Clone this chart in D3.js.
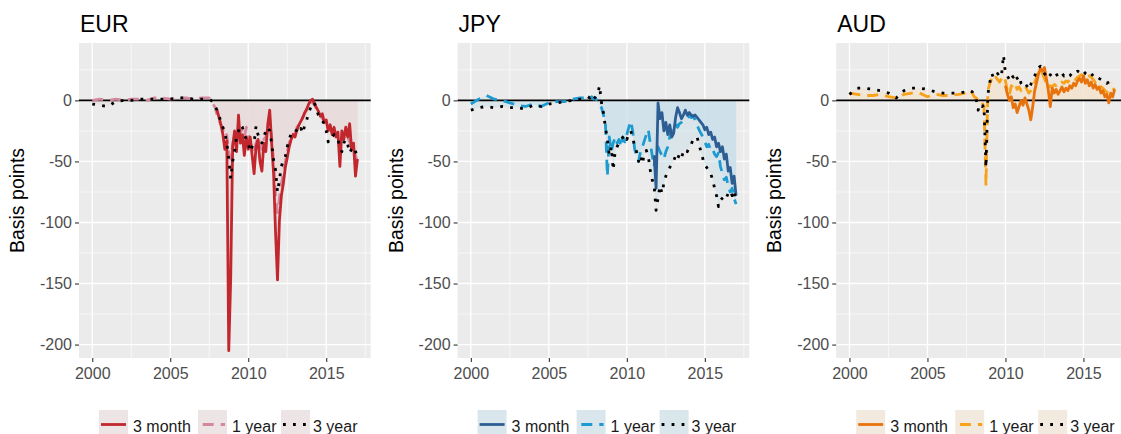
<!DOCTYPE html>
<html>
<head>
<meta charset="utf-8">
<script src="https://cdn.jsdelivr.net/npm/d3@7"></script>
<style>
  body { margin: 0; background: #fff; }
  svg { display: block; font-family: "Liberation Sans", Arial, sans-serif; }
</style>
</head>
<body>
<div id="viz"></div>
<script>
// time grid: half-yearly up to mid 2007, then every 1/8 year
const years = [
  2000, 2000.5, 2001, 2001.5, 2002, 2002.5, 2003, 2003.5, 2004, 2004.5, 2005, 2005.5, 2006, 2006.5, 2007, 2007.5,
  2007.625, 2007.75, 2007.875,
  2008, 2008.125, 2008.25, 2008.375, 2008.5, 2008.625, 2008.75, 2008.875,
  2009, 2009.125, 2009.25, 2009.375, 2009.5, 2009.625, 2009.75, 2009.875,
  2010, 2010.125, 2010.25, 2010.375, 2010.5, 2010.625, 2010.75, 2010.875,
  2011, 2011.125, 2011.25, 2011.375, 2011.5, 2011.625, 2011.75, 2011.875,
  2012, 2012.125, 2012.25, 2012.375, 2012.5, 2012.625, 2012.75, 2012.875,
  2013, 2013.125, 2013.25, 2013.375, 2013.5, 2013.625, 2013.75, 2013.875,
  2014, 2014.125, 2014.25, 2014.375, 2014.5, 2014.625, 2014.75, 2014.875,
  2015, 2015.125, 2015.25, 2015.375, 2015.5, 2015.625, 2015.75, 2015.875,
  2016, 2016.125, 2016.25, 2016.375, 2016.5, 2016.625, 2016.75, 2016.875,
  2017
];

const N = null;

// EUR basis (bp)
const eur3m = [
  N, N, N, N, N, N, N, N, N, N, N, N, N, N, N, N,
  N, N, N,
  -8, -14, -20, -28, -40, -33, -205, -146,
  -38, -25, -42, -12, -35, -28, -45, -30,
  -40, -30, -45, -60, -38, -32, -50, -58,
  -35, -42, -20, -8, -35, -60, -108, -147,
  -98, -78, -68, -55, -47, -38, -32, -28,
  -30, -24, -20, -17, -14, -10, -7, -3,
  0, 1, -3, -6, -9, -13, -11, -18,
  -16, -25, -20, -28, -22, -30, -26, -54,
  -25, -32, -22, -30, -19, -40, -35, -62,
  -48
];
const eur1y = [
  0, 1, 0, 1, 0, 1, 1, 0, 2, 2, 1, 2, 2, 1, 2, 2,
  0, -3, -6,
  -12, -16, -20, -24, -30, -28, -42, -48,
  -36, -28, -34, -22, -26, -24, -30, -22,
  -28, -35, -38, -42, -35, -30, -36, -40,
  -32, -30, -22, -15, -30, -50, -78, -92,
  -80, -68, -60, -50, -42, -35, -30, -28,
  -27, -22, -20, -16, -14, -10, -8, -4,
  -1, -2, -4, -7, -10, -12, -15, -17,
  -20, -22, -24, -25, -27, -28, -30, -35,
  -30, -28, -32, -30, -34, -38, -40, -45,
  -50
];
const eur3y = [
  -3, -4, -5, -1, 0, 0, 1, 1, 1, 1, 1, 2, 2, 1, 1, 1,
  0, -2, -5,
  -8, -12, -18, -22, -26, -35, -48, -64,
  -50, -42, -30, -25, -20, -22, -28, -32,
  -35, -42, -38, -35, -21, -28, -32, -35,
  -30, -25, -22, -25, -35, -49, -57, -75,
  -65, -54, -49, -46, -38, -32, -27, -26,
  -24, -25, -27, -23, -27, -20, -16, -10,
  -6, -2, -2, -8, -12, -14, -17, -19,
  -25, -34, -30, -30, -28, -31, -32, -39,
  -42, -35, -32, -36, -43, -40, -38, -42,
  -45
];

// JPY basis (bp)
const jpy3m = [
  N, N, N, N, N, N, N, N, N, N, N, N, N, N, N, N,
  N, N, N,
  N, N, N, N, N, N, N, N,
  N, N, N, N, N, N, N, N,
  N, N, N, N, N, N, N, N,
  N, N, N, N, N, N, -45, -72,
  -2, -15, -10, -25, -18, -28, -20, -30,
  -27, -14, -6, -10, -15, -12, -8, -12,
  -10, -12, -13, -12, -14, -16, -18, -20,
  -24, -22, -28, -26, -32, -30, -38, -35,
  -42, -38, -48, -44, -58, -55, -68, -62,
  -78
];
const jpy1y = [
  -3, 1, 4, 1, 0, -2, -4, -5, -3, -5, -2, -1, -1, 1, 2, 2,
  1, 3, 1,
  2, -2, -4, -6, -12, -18, -62, -30,
  -42, -35, -30, -35, -32, -38, -30, -34,
  -28, -22, -17, -25, -40, -45, -50, -42,
  -38, -33, -28, -24, -35, -45, -54, -40,
  -38, -42, -45, -48, -42, -38, -30, -24,
  -22, -19, -22, -19, -18, -16, -15, -14,
  -13, -14, -13, -16, -20, -24, -27, -30,
  -34, -38, -36, -41, -40, -44, -46, -43,
  -54, -60, -65, -63, -70, -75, -72, -80,
  -85
];
const jpy3y = [
  -8, -6, -5, -6, -5, -6, -6, -7, -4, -5, -3, -2, -1, 0, 1, 3,
  2, 4, 1,
  3, 5, 12, -2, -10, -22, -32, -45,
  -38, -57, -42, -38, -35, -32, -30, -28,
  -32, -27, -25, -30, -38, -42, -50, -45,
  -52, -43, -41, -46, -57, -65, -70, -90,
  -80, -70, -76, -68, -62, -58, -55, -52,
  -50, -45, -48, -44, -47, -42, -40, -42,
  -38, -36, -32, -31, -30, -36, -42, -48,
  -53, -55, -58, -60, -65, -72, -78, -87,
  -82, -80, -78, -80, -76, -74, -78, -74,
  -83
];

// AUD basis (bp)
const aud3m = [
  N, N, N, N, N, N, N, N, N, N, N, N, N, N, N, N,
  N, N, N,
  N, N, N, N, N, N, N, N,
  N, N, N, N, N, N, N, N,
  12, 5, 0, 3, -6, -3, -10, -5,
  0, -4, 2, -3, -8, -16, -5, 8,
  15, 22, 26, 24, 27, 18, 8, -5,
  10, 6, 9, 5, 8, 11, 7, 10,
  8, 12, 10, 14, 12, 16, 18, 15,
  20, 14, 17, 12, 15, 10, 13, 9,
  11, 6, 8, 3, 5, -2, 6, 3,
  9
];
const aud1y = [
  6, 5, 4, 4, 5, 3, 2, 5, 6, 6, 3, 5, 4, 4, 5, 6,
  7, 8, 6,
  3, 2, 0, -3, -2, -5, -70, 8,
  14, 18, 16, 19, 17, 15, 18, 20,
  16, 8, 4, 12, 10, 13, 9, 11,
  8, 10, 12, 9, 6, 8, 12, 15,
  19, 24, 25, 22, 18, 14, 10, 12,
  11, 13, 12, 14, 13, 15, 14, 16,
  15, 17, 16, 18, 17, 19, 20, 21,
  20, 19, 18, 20, 19, 17, 15, 16,
  13, 11, 10, 8, 7, 5, 6, 8,
  10
];
const aud3y = [
  5, 10, 10, 9, 8, 6, 2, 8, 10, 10, 9, 7, 6, 6, 6, 7,
  8, 8, 7,
  4, 1, -8, -3, -5, -4, -55, 5,
  15, 22, 18, 20, 22, 19, 21, 37,
  22, 20, 17, 21, 19, 22, 18, 20,
  14, 12, 10, 12, 9, 13, 17, 20,
  25, 27, 28, 27, 22, 20, 18, 21,
  19, 20, 22, 19, 20, 22, 20, 21,
  19, 20, 22, 21, 23, 24, 23, 25,
  24, 22, 21, 23, 22, 20, 21, 19,
  18, 17, 16, 16, 14, 15, 16, 17,
  N
];

const seriesNames = ["3 month", "1 year", "3 year"];
const yTicks = [-200, -150, -100, -50, 0];
const yMinor = [-175, -125, -75, -25, 25];
const xTicks = [2000, 2005, 2010, 2015];
const xMinor = [2002.5, 2007.5, 2012.5, 2017.5];

const panels = [
  { name: "EUR", series: [eur3m, eur1y, eur3y], colors: ["#c1272d", "#d3889d", "#000000"], shade: "#e8d9db", key: "#ede4e5" },
  { name: "JPY", series: [jpy3m, jpy1y, jpy3y], colors: ["#2d5e93", "#1d9bd1", "#000000"], shade: "#c9e0ea", key: "#d9e7ed" },
  { name: "AUD", series: [aud3m, aud1y, aud3y], colors: ["#e8730c", "#f8a21b", "#000000"], shade: "#f3e3cd", key: "#f3eadf" },
];

const W = 1121, H = 434;
const lefts = [79, 457.6, 836.2];
const plotW = 291.7, plotTop = 43, plotBottom = 358;
const lw = 2.8;
const dashes = [null, "11,7", "2.8,7.2"];

const svg = d3.select("#viz").append("svg").attr("width", W).attr("height", H);

const y = d3.scaleLinear().domain([-211, 47]).range([plotBottom, plotTop]);

panels.forEach((p, i) => {
  const L = lefts[i];
  const x = d3.scaleLinear().domain([1999.15, 2017.85]).range([L, L + plotW]);
  const g = svg.append("g");

  // panel background + grid
  g.append("rect").attr("x", L).attr("y", plotTop).attr("width", plotW).attr("height", plotBottom - plotTop).attr("fill", "#ebebeb");
  g.selectAll(".ymin").data(yMinor).join("line")
    .attr("x1", L).attr("x2", L + plotW).attr("y1", d => y(d)).attr("y2", d => y(d))
    .attr("stroke", "#fff").attr("stroke-width", 0.6);
  g.selectAll(".xmin").data(xMinor).join("line")
    .attr("x1", d => x(d)).attr("x2", d => x(d)).attr("y1", plotTop).attr("y2", plotBottom)
    .attr("stroke", "#fff").attr("stroke-width", 0.6);
  g.selectAll(".ymaj").data(yTicks).join("line")
    .attr("x1", L).attr("x2", L + plotW).attr("y1", d => y(d)).attr("y2", d => y(d))
    .attr("stroke", "#fff").attr("stroke-width", 1.3);
  g.selectAll(".xmaj").data(xTicks).join("line")
    .attr("x1", d => x(d)).attr("x2", d => x(d)).attr("y1", plotTop).attr("y2", plotBottom)
    .attr("stroke", "#fff").attr("stroke-width", 1.3);

  const pts = p.series.map(s => years.map((t, k) => [t, s[k]]));

  // shaded areas between zero and each series
  const area = d3.area().defined(d => d[1] != null)
    .x(d => x(d[0])).y0(y(0)).y1(d => y(d[1]));
  pts.forEach(d => {
    g.append("path").datum(d).attr("d", area).attr("fill", p.shade).attr("fill-opacity", 0.5);
  });

  // zero line
  g.append("line").attr("x1", L).attr("x2", L + plotW).attr("y1", y(0)).attr("y2", y(0))
    .attr("stroke", "#000").attr("stroke-width", 1.6);

  const line = d3.line().defined(d => d[1] != null).x(d => x(d[0])).y(d => y(d[1]));
  [1, 0, 2].forEach(j => {
    g.append("path").datum(pts[j]).attr("d", line)
      .attr("fill", "none").attr("stroke", p.colors[j]).attr("stroke-width", lw)
      .attr("stroke-linejoin", "round").attr("stroke-dasharray", dashes[j]);
  });

  // axes (plain hyphen minus like the original)
  const ya = g.append("g").attr("transform", `translate(${L},0)`)
    .call(d3.axisLeft(y).tickValues(yTicks).tickFormat(d => String(d)).tickSize(4).tickPadding(3));
  const xa = g.append("g").attr("transform", `translate(0,${plotBottom})`)
    .call(d3.axisBottom(x).tickValues(xTicks).tickFormat(d => String(d)).tickSize(4).tickPadding(6));
  [ya, xa].forEach(a => {
    a.select(".domain").remove();
    a.selectAll(".tick line").attr("stroke", "#333").attr("stroke-width", 1.1);
    a.selectAll(".tick text").attr("fill", "#4d4d4d").style("font-size", "16px")
      .style("font-family", '"Liberation Sans", Arial, sans-serif');
  });

  // titles
  g.append("text").attr("x", L + 1).attr("y", 32).attr("font-size", 23).attr("fill", "#000").text(p.name);
  g.append("text").attr("transform", `translate(${L - 55},${(plotTop + plotBottom) / 2}) rotate(-90)`)
    .attr("text-anchor", "middle").attr("font-size", 19.5).attr("fill", "#000").text("Basis points");

  // legend
  const keyX = [20, 119, 202];
  const textX = [54, 153, 234];
  seriesNames.forEach((nm, j) => {
    const kx = L + keyX[j];
    g.append("rect").attr("x", kx).attr("y", 410).attr("width", 29).attr("height", 29).attr("fill", p.key);
    g.append("line").attr("x1", kx + 2).attr("x2", kx + 27).attr("y1", 424.5).attr("y2", 424.5)
      .attr("stroke", p.colors[j]).attr("stroke-width", lw)
      .attr("stroke-dasharray", dashes[j]).attr("stroke-dashoffset", j === 1 ? 15.3 : 0);
    g.append("text").attr("x", L + textX[j]).attr("y", 432).attr("font-size", 16).attr("fill", "#1a1a1a").text(nm);
  });
});
</script>
</body>
</html>
